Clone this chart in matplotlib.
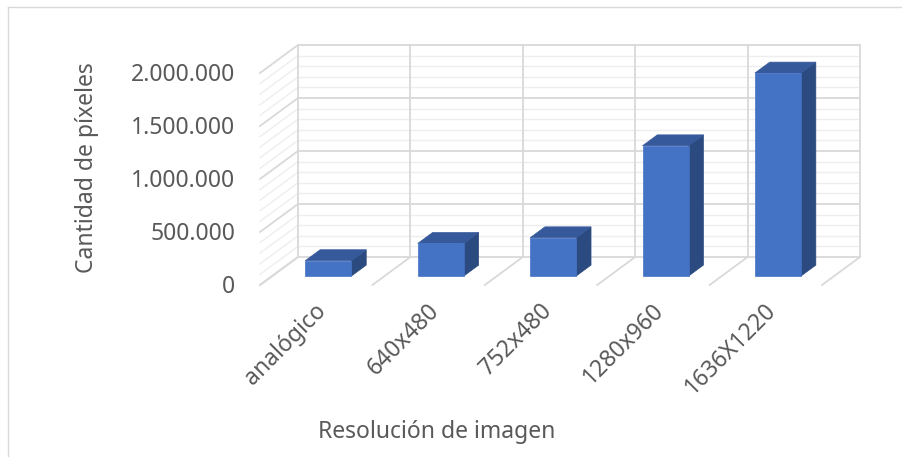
import numpy as np
import matplotlib.pyplot as plt
from matplotlib.patches import Polygon
from matplotlib.lines import Line2D

# ------------------------------------------------------------
# Datos
# ------------------------------------------------------------
categories = ["analógico", "640x480", "752x480", "1280x960", "1636X1220"]
pixels = [145000, 307200, 360960, 1228800, 1915000]
y_ticks = [0, 500000, 1000000, 1500000, 2000000]
y_tick_labels = ["0", "500.000", "1.000.000", "1.500.000", "2.000.000"]
minor_step = 100000
y_max = 2000000

# ------------------------------------------------------------
# Estilo / geometria del falso 3D (proyeccion oblicua)
# ------------------------------------------------------------
DX, DY = 0.338, 264000        # desplazamiento pared trasera -> frente
BAR_W = 0.41
F_FRONT, F_BACK = 0.68, 0.29  # profundidad de la barra (0 = pared, 1 = frente)

C_FRONT = "#4472c4"
C_TOP = "#36599b"
C_SIDE = "#2b4a7f"
C_MAJOR = "#d9d9d9"
C_MINOR = "#eeeeee"
C_TEXT = "#595959"
FONT = "Noto Sans"


def proj(x, y, f):
    return (x - f * DX, y - f * DY)


W, H = 903, 457
fig = plt.figure(figsize=(W / 100, H / 100), dpi=100)
ax = fig.add_axes([298 / W, 1 - 257 / H, 562 / W, 212 / H])
ax.set_xlim(0, len(categories))
ax.set_ylim(0, y_max)
ax.axis("off")

n = len(categories)

# pared trasera + pared lateral
for v in np.arange(0, y_max + 1, minor_step):
    major = v % 500000 == 0
    col = C_MAJOR if major else C_MINOR
    lw = 1.3 if major else 1.0
    ax.plot([0, n], [v, v], color=col, lw=lw, zorder=1 if not major else 2,
            clip_on=False, solid_capstyle="butt")
    x1, y1 = proj(0, v, 1)
    ax.plot([0, x1], [v, y1], color=col, lw=lw, zorder=1 if not major else 2,
            clip_on=False)

for k in range(n + 1):
    ax.plot([k, k], [0, y_max], color=C_MAJOR, lw=1.3, zorder=2, clip_on=False)
    x1, y1 = proj(k, 0, 1)
    ax.plot([k, x1], [0, y1], color=C_MAJOR, lw=1.3, zorder=2, clip_on=False)

# barras
for i, v in enumerate(pixels):
    c = i + 0.5
    xl, xr = c - BAR_W / 2, c + BAR_W / 2
    front = [proj(xl, 0, F_FRONT), proj(xr, 0, F_FRONT),
             proj(xr, v, F_FRONT), proj(xl, v, F_FRONT)]
    top = [proj(xl, v, F_FRONT), proj(xr, v, F_FRONT),
           proj(xr, v, F_BACK), proj(xl, v, F_BACK)]
    side = [proj(xr, 0, F_FRONT), proj(xr, 0, F_BACK),
            proj(xr, v, F_BACK), proj(xr, v, F_FRONT)]
    for pts, col in [(side, C_SIDE), (top, C_TOP), (front, C_FRONT)]:
        ax.add_patch(Polygon(pts, closed=True, facecolor=col, edgecolor=col,
                             lw=0.5, zorder=5, clip_on=False))

# etiquetas eje Y
for v, lab in zip(y_ticks, y_tick_labels):
    x0, y0 = proj(0, v, 1)
    ax.text(x0 - 0.22, y0 - 15000, lab, ha="right", va="center",
            fontsize=16.5, color=C_TEXT, family=FONT)

# etiquetas eje X
for i, lab in enumerate(categories):
    x0, y0 = proj(i + 0.5, 0, 1)
    ax.text(x0 + 0.06, y0 - 210000, lab, ha="right", va="center",
            rotation=45, rotation_mode="anchor",
            fontsize=16.5, color=C_TEXT, family=FONT)

fig.text(437 / W, 1 - 432 / H, "Resolución de imagen", ha="center", va="center",
         fontsize=16.5, color=C_TEXT, family=FONT)
fig.text(87 / W, 1 - 168 / H, "Cantidad de píxeles", ha="center", va="center",
         rotation=90, fontsize=16.5, color=C_TEXT, family=FONT)

# borde del area del grafico
fig.add_artist(Line2D([8 / W, 8 / W], [0, 1 - 7 / H], color=C_MAJOR, lw=1.0))
fig.add_artist(Line2D([8 / W, 1], [1 - 7 / H, 1 - 7 / H], color=C_MAJOR, lw=1.0))

fig.savefig("out.png", dpi=100)
